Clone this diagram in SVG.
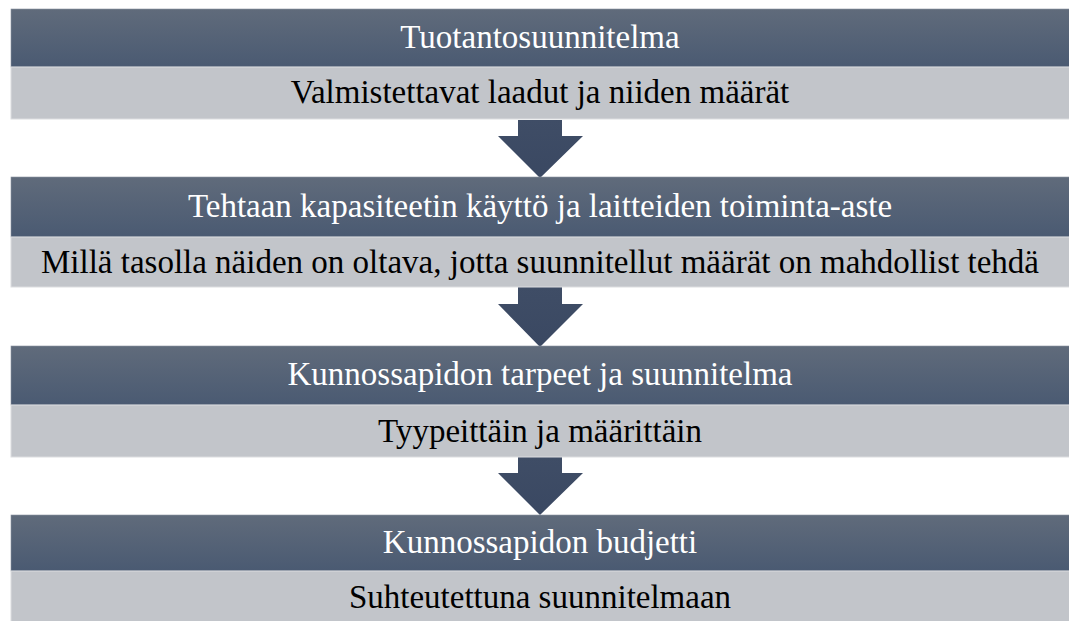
<svg xmlns="http://www.w3.org/2000/svg" width="1069" height="621" viewBox="0 0 1069 621">
<defs>
<linearGradient id="hg" x1="0" y1="0" x2="0" y2="1">
<stop offset="0" stop-color="#606b7b"/>
<stop offset="1" stop-color="#4a5a72"/>
</linearGradient>
<linearGradient id="ag" x1="0" y1="0" x2="0" y2="1">
<stop offset="0" stop-color="#3f4d66"/>
<stop offset="1" stop-color="#3a4862"/>
</linearGradient>
</defs>
<style>
.hd{fill:url(#hg);stroke:#8a93a0;stroke-width:0.6}
.bd{fill:#c2c5ca;stroke:#dcdde0;stroke-width:1}
.ht{fill:#ffffff}
.bt{fill:#000000}
.ar{fill:url(#ag)}
</style>
<rect width="1069" height="621" fill="#ffffff"/>
<g id="connectors">
<polygon class="ar" points="518,120 562,120 562,136 583,136 540,178 498,136 518,136"/>
<polygon class="ar" points="518,287 562,287 562,304 583,304 540,347 498,304 518,304"/>
<polygon class="ar" points="518,457 562,457 562,473 583,473 540,515 498,473 518,473"/>
</g>
<g font-family="Liberation Serif, Times New Roman, DejaVu Serif, serif" text-anchor="middle" font-size="33">
<g id="node1">
<rect class="hd" x="11" y="9" width="1060" height="58"/>
<text class="ht" x="540" y="48">Tuotantosuunnitelma</text>
<rect class="bd" x="11" y="67" width="1060" height="52"/>
<text class="bt" x="540" y="103">Valmistettavat laadut ja niiden määrät</text>
</g>
<g id="node2">
<rect class="hd" x="11" y="177" width="1060" height="60"/>
<text class="ht" x="540" y="217">Tehtaan kapasiteetin käyttö ja laitteiden toiminta-aste</text>
<rect class="bd" x="11" y="237" width="1060" height="50"/>
<text class="bt" x="540" y="273">Millä tasolla näiden on oltava, jotta suunnitellut määrät on mahdollist tehdä</text>
</g>
<g id="node3">
<rect class="hd" x="11" y="346" width="1060" height="59"/>
<text class="ht" x="540" y="385">Kunnossapidon tarpeet ja suunnitelma</text>
<rect class="bd" x="11" y="405" width="1060" height="52"/>
<text class="bt" x="540" y="442">Tyypeittäin ja määrittäin</text>
</g>
<g id="node4">
<rect class="hd" x="11" y="515" width="1060" height="56"/>
<text class="ht" x="540" y="553">Kunnossapidon budjetti</text>
<rect class="bd" x="11" y="571" width="1060" height="52"/>
<text class="bt" x="540" y="608">Suhteutettuna suunnitelmaan</text>
</g>
</g>
</svg>
